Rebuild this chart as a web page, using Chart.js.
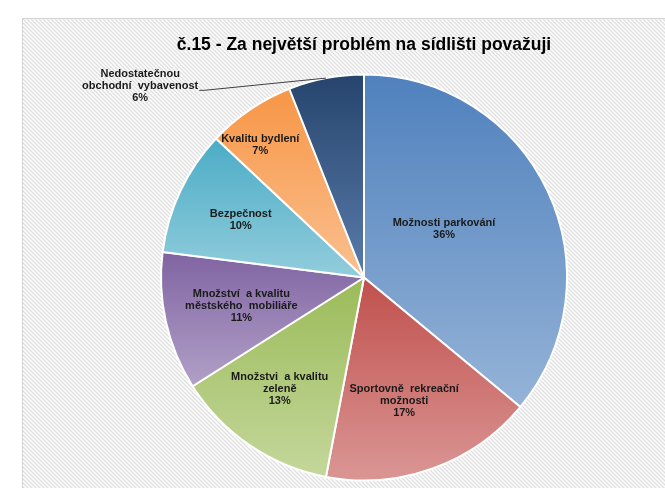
<!DOCTYPE html>
<html>
<head>
<meta charset="utf-8">
<script src="https://cdn.jsdelivr.net/npm/chart.js@4"></script>
<style>
  html, body { margin: 0; padding: 0; background: #fff; }
  #wrap { width: 665px; height: 488px; }
</style>
</head>
<body>
<div id="wrap"><canvas id="pieChart" width="665" height="488"></canvas></div>
<script>
// Data
const categories = [
    'Možnosti parkování',
    'Sportovně  rekreační\nmožnosti',
    'Množstvi  a kvalitu\nzeleně',
    'Množství  a kvalitu\nměstského  mobiliáře',
    'Bezpečnost',
    'Kvalitu bydlení',
    'Nedostatečnou\nobchodní  vybavenost'
];
const values = [36, 17, 13, 11, 10, 7, 6];

// gradient top / bottom colours per slice (Excel style)
const topColors = ['#4F81BD', '#C0504D', '#9BBB59', '#8064A2', '#4BACC6', '#F79646', '#26446C'];
const bottomColors = ['#95B3D7', '#DA9694', '#C4D79B', '#B1A0C7', '#92CDDC', '#FAC090', '#5A7CAB'];

// label placement: fraction of radius from centre, angle (deg from top, clockwise)
const labelPlace = [
    { r: 0.46, a: 59 },
    { r: 0.64, a: 162 },
    { r: 0.69, a: 217 },
    { r: 0.62, a: 257 },
    { r: 0.67, a: 295 },
    { r: 0.83, a: 322 },
    { r: 1.45, a: 310.5, leader: true }
];

const FONT = "'Liberation Sans', Arial, sans-serif";

function makeHatch() {
    const c = document.createElement('canvas');
    c.width = 4; c.height = 4;
    const g = c.getContext('2d');
    g.fillStyle = '#ffffff';
    g.fillRect(0, 0, 4, 4);
    g.strokeStyle = '#dedede';
    g.lineWidth = 1.3;
    g.beginPath();
    g.moveTo(-1, -1); g.lineTo(5, 5);
    g.moveTo(-1, 3); g.lineTo(1, 5);
    g.moveTo(3, -1); g.lineTo(5, 1);
    g.stroke();
    return c;
}

const backgroundPlugin = {
    id: 'hatchBg',
    beforeDraw(chart) {
        const ctx = chart.ctx;
        ctx.save();
        ctx.fillStyle = '#ffffff';
        ctx.fillRect(0, 0, chart.width, chart.height);
        ctx.fillStyle = ctx.createPattern(makeHatch(), 'repeat');
        ctx.fillRect(22, 18, chart.width - 22, chart.height - 18);
        ctx.strokeStyle = '#d4d4d4';
        ctx.lineWidth = 1;
        ctx.strokeRect(22.5, 18.5, chart.width, chart.height);
        ctx.restore();
    }
};

// vertical gradient per slice, relative to the slice bounding box
const gradientPlugin = {
    id: 'sliceGradient',
    beforeDatasetsDraw(chart) {
        const ctx = chart.ctx;
        chart.getDatasetMeta(0).data.forEach((arc, i) => {
            const { x, y, startAngle, endAngle, outerRadius } = arc.getProps(['x', 'y', 'startAngle', 'endAngle', 'outerRadius'], true);
            let ys = [y, y + Math.sin(startAngle) * outerRadius, y + Math.sin(endAngle) * outerRadius];
            for (let k = -4; k <= 4; k++) {
                const a = Math.PI / 2 + k * Math.PI;
                if (a > startAngle && a < endAngle) ys.push(y + Math.sin(a) * outerRadius);
            }
            const y0 = Math.min(...ys), y1 = Math.max(...ys);
            const grad = ctx.createLinearGradient(0, y0, 0, y1);
            grad.addColorStop(0, topColors[i]);
            grad.addColorStop(1, bottomColors[i]);
            arc.options.backgroundColor = grad;
        });
    }
};

const labelPlugin = {
    id: 'sliceLabels',
    afterDatasetsDraw(chart) {
        const ctx = chart.ctx;
        const total = values.reduce((s, v) => s + v, 0);
        const lh = 12;
        ctx.save();
        ctx.font = 'bold 11px ' + FONT;
        ctx.fillStyle = '#1a1a1a';
        ctx.textAlign = 'center';
        ctx.textBaseline = 'middle';
        chart.getDatasetMeta(0).data.forEach((arc, i) => {
            const { x, y, startAngle, endAngle, outerRadius } = arc.getProps(['x', 'y', 'startAngle', 'endAngle', 'outerRadius'], true);
            const p = labelPlace[i];
            const ang = (p.a - 90) * Math.PI / 180;
            const lx = x + Math.cos(ang) * outerRadius * p.r;
            const ly = y + Math.sin(ang) * outerRadius * p.r;
            const lines = categories[i].split('\n');
            lines.push(Math.round(values[i] / total * 100) + '%');
            const top = ly - (lines.length - 1) * lh / 2;
            lines.forEach((t, k) => ctx.fillText(t, lx, top + k * lh));
            if (p.leader) {
                const mid = (startAngle + endAngle) / 2;
                const w = ctx.measureText(lines[1]).width;
                ctx.strokeStyle = '#404040';
                ctx.lineWidth = 1;
                ctx.beginPath();
                ctx.moveTo(lx + w / 2 + 1, top + lh + 4);
                ctx.lineTo(lx + w / 2 + 6, top + lh + 4);
                ctx.lineTo(x + Math.cos(mid) * outerRadius, y + Math.sin(mid) * outerRadius);
                ctx.stroke();
            }
        });
        ctx.restore();
    }
};

new Chart(document.getElementById('pieChart').getContext('2d'), {
    type: 'pie',
    data: {
        labels: categories,
        datasets: [{
            data: values,
            backgroundColor: topColors,
            borderColor: '#ffffff',
            borderWidth: 2
        }]
    },
    options: {
        responsive: false,
        animation: false,
        layout: { padding: { left: 160, right: 97, top: 0, bottom: 6 } },
        plugins: {
            legend: { display: false },
            tooltip: { enabled: false },
            title: {
                display: true,
                text: 'č.15 - Za největší problém na sídlišti považuji',
                color: '#000000',
                font: { family: FONT, size: 17.5, weight: 'bold' },
                padding: { top: 35, bottom: 17 }
            }
        }
    },
    plugins: [backgroundPlugin, gradientPlugin, labelPlugin]
});
</script>
</body>
</html>
